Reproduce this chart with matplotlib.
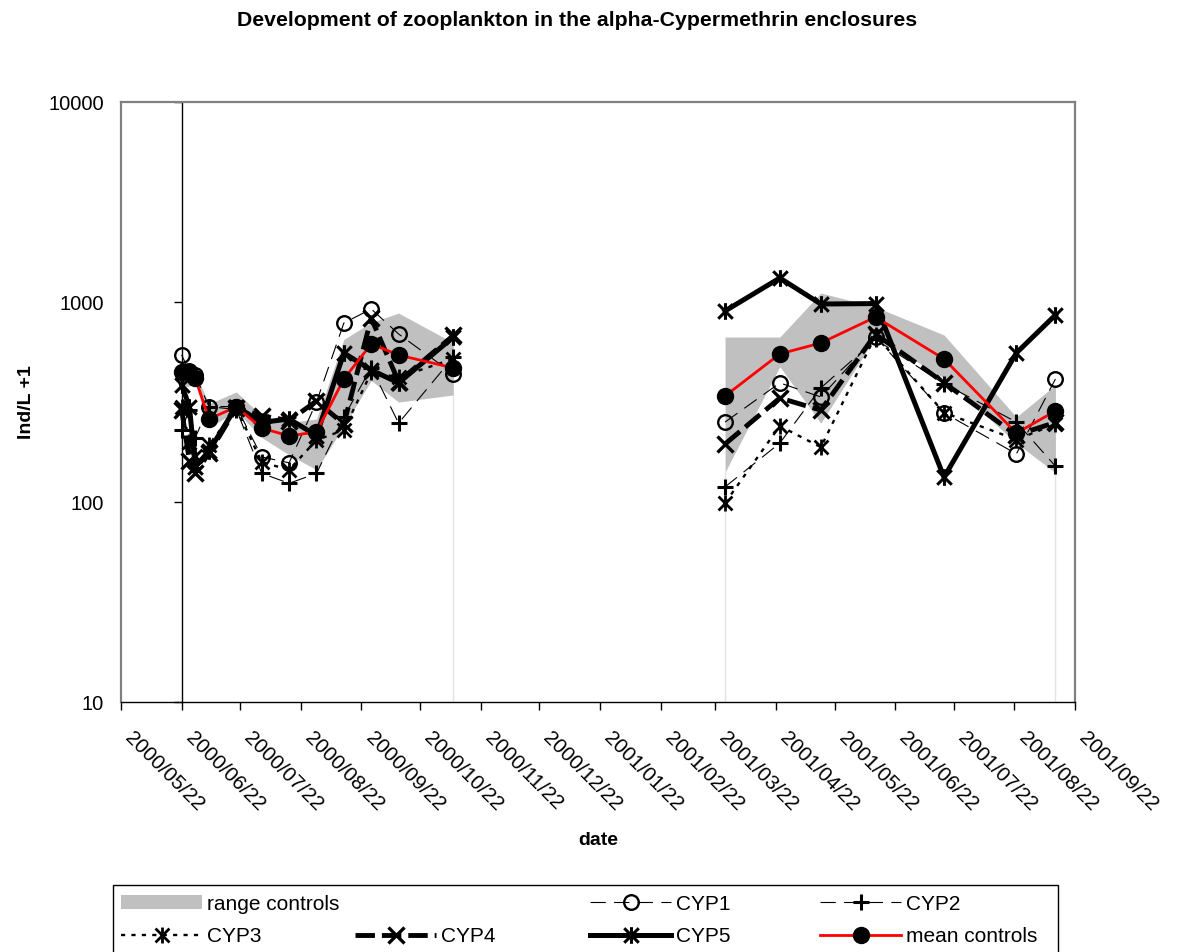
import numpy as np
import pandas as pd
import matplotlib
matplotlib.use('Agg')
import matplotlib.pyplot as plt
from matplotlib.path import Path
from matplotlib.patches import Patch, Rectangle
from matplotlib.ticker import NullLocator
from matplotlib import transforms
import matplotlib.dates as mdates

plt.rcParams['font.family'] = ['Liberation Sans', 'DejaVu Sans']
plt.rcParams['lines.scale_dashes'] = False

# sampling dates (first 12 in 2000, the rest in 2001)
dates = pd.to_datetime([
    '2000-06-22', '2000-06-26', '2000-06-29', '2000-07-06', '2000-07-20', '2000-08-02',
    '2000-08-16', '2000-08-30', '2000-09-13', '2000-09-27', '2000-10-11', '2000-11-08',
    '2001-03-27', '2001-04-24', '2001-05-15', '2001-06-12', '2001-07-17', '2001-08-23',
    '2001-09-12'])
n2000 = 12

mean_ctrl = [447, 447, 417, 260, 299, 234, 214, 224, 412, 617, 543, 468,
             339, 550, 624, 841, 519, 221, 285]
ctrl_max = [500, 490, 440, 310, 355, 270, 250, 260, 650, 790, 880, 625,
            668, 668, 1109, 944, 684, 266, 385]
ctrl_min = [375, 380, 390, 235, 285, 210, 172, 145, 240, 405, 316, 343,
            141, 475, 248, 668, 417, 197, 140]
cyp1 = [544, 450, 430, 300, 300, 168, 157, 316, 785, 923, 692, 437,
        251, 394, 335, 668, 279, 174, 412]
cyp2 = [229, 290, 210, 300, 290, 139, 124, 139, 266, 470, 248, 530,
        119, 197, 372, 650, 390, 251, 151]
cyp3 = [300, 200, 170, 193, 295, 158, 145, 204, 229, 445, 420, 520,
        99, 240, 188, 680, 280, 205, 245]
cyp4 = [290, 160, 140, 175, 295, 270, 255, 320, 245, 830, 400, 680,
        195, 331, 288, 690, 395, 216, 250]
cyp5 = [385, 300, 150, 180, 300, 250, 260, 215, 556, 457, 394, 668,
        902, 1318, 977, 982, 133, 556, 861]

title = 'Development of zooplankton in the alpha-Cypermethrin enclosures'

# excel style asterisk: X plus a vertical bar
star = Path([(-1, -1), (1, 1), (-1, 1), (1, -1), (0, -1.15), (0, 1.15)],
            [Path.MOVETO, Path.LINETO] * 3)

W, H = 1177, 952
fig = plt.figure(figsize=(W / 100, H / 100), dpi=100)
ax = fig.add_axes([121 / W, 1 - 702 / H, 954 / W, 600 / H])

periods = [slice(0, n2000), slice(n2000, None)]
lo = np.array(ctrl_min, float)
hi = np.array(ctrl_max, float)
for sl in periods:
    ax.fill_between(dates[sl], lo[sl], hi[sl], color='#c0c0c0', lw=0, zorder=1)
ends = [n2000 - 1, n2000, len(dates) - 1]
ax.vlines(dates[ends], 10, lo[ends], color='#e4e4e4', lw=1, zorder=0.9)

styles = [
    ('CYP1', cyp1, dict(color='black', lw=0.8, dashes=(11, 6), marker='o', ms=10.5,
                        mfc='none', mec='black', mew=1.7)),
    ('CYP2', cyp2, dict(color='black', lw=0.8, dashes=(11, 6), marker='+', ms=12,
                        mec='black', mew=2.2)),
    ('CYP3', cyp3, dict(color='black', lw=1.7, dashes=(3, 4.5), marker=star, ms=11.5,
                        mec='black', mew=2.0)),
    ('CYP4', cyp4, dict(color='black', lw=3.5, dashes=(14, 5), marker='x', ms=11,
                        mec='black', mew=2.4)),
    ('CYP5', cyp5, dict(color='black', lw=3.6, marker=star, ms=12,
                        mec='black', mew=2.2)),
    ('mean controls', mean_ctrl, dict(color='#ff0000', lw=2, marker='o', ms=11.5,
                                      mfc='black', mec='black', mew=1)),
]
handles = {}
for name, vals, st in styles:
    v = np.array(vals, float)
    for k, sl in enumerate(periods):
        ln, = ax.plot(dates[sl], v[sl], zorder=3, **st)
        if k == 0:
            handles[name] = ln
handles['range controls'] = Patch(facecolor='#c0c0c0', edgecolor='none')

# axes
x0, x1 = pd.Timestamp('2000-05-22'), pd.Timestamp('2001-09-22')
ax.set_xlim(x0, x1)
ax.set_yscale('log')
ax.set_ylim(10, 10000)
ax.set_yticks([10, 100, 1000, 10000])
ax.set_yticklabels(['10', '100', '1000', '10000'], fontsize=14.5)
ax.yaxis.set_minor_locator(NullLocator())
ax.tick_params(axis='y', length=0, pad=12.5)

months = pd.date_range(x0, x1, freq=pd.DateOffset(months=1))
ax.set_xticks(months)
ax.set_xticklabels([m.strftime('%Y/%m/%d') for m in months], rotation=-45,
                   ha='left', va='center', rotation_mode='anchor', fontsize=14.8)
ax.xaxis.set_minor_locator(NullLocator())
ax.tick_params(axis='x', direction='out', length=6, width=1, pad=18)
shift = transforms.ScaledTranslation(7 / 100, 0, fig.dpi_scale_trans)
for lab in ax.get_xticklabels():
    lab.set_transform(lab.get_transform() + shift)

for s in ['top', 'right', 'left']:
    ax.spines[s].set_color('#808080')
    ax.spines[s].set_linewidth(1.6)
ax.spines['bottom'].set_color('black')
ax.spines['bottom'].set_linewidth(1)

# value axis crossing at 2000/06/22
cross = (mdates.date2num(pd.Timestamp('2000-06-22')) - mdates.date2num(x0)) / \
        (mdates.date2num(x1) - mdates.date2num(x0))
sec = ax.secondary_yaxis(cross)
sec.set_yticks([10, 100, 1000, 10000])
sec.yaxis.set_minor_locator(NullLocator())
sec.tick_params(axis='y', length=6, width=1, direction='out', labelleft=False)
sec.spines['left'].set_color('black')
sec.spines['left'].set_linewidth(1)

ax.set_ylabel('Ind/L +1', fontweight='bold', fontsize=14)
ax.yaxis.set_label_coords(-0.09, 0.5)
ax.set_xlabel('date', fontweight='bold', fontsize=14)
ax.xaxis.set_label_coords(0.5, -0.217)

fig.text(577 / W, 1 - 20 / H, title, ha='center', va='center',
         fontweight='bold', fontsize=15.3)

# legend: box and one entry per cell
fig.patches.append(Rectangle((113 / W, -0.01), (1058 - 113) / W, (952 - 885) / H + 0.01,
                             transform=fig.transFigure, facecolor='white',
                             edgecolor='black', lw=1, zorder=0))
cells = [('range controls', 121, 904), ('CYP1', 590, 904), ('CYP2', 820, 904),
         ('CYP3', 121, 937), ('CYP4', 355, 937), ('CYP5', 590, 937),
         ('mean controls', 820, 937)]
for name, cx, cy in cells:
    fig.legend([handles[name]], [name], loc='center left',
               bbox_to_anchor=(cx / W, 1 - cy / H), frameon=False, borderpad=0,
               borderaxespad=0, handlelength=3.9, handletextpad=0.25,
               handleheight=0.62, fontsize=15)

fig.savefig('out.png', dpi=100)
